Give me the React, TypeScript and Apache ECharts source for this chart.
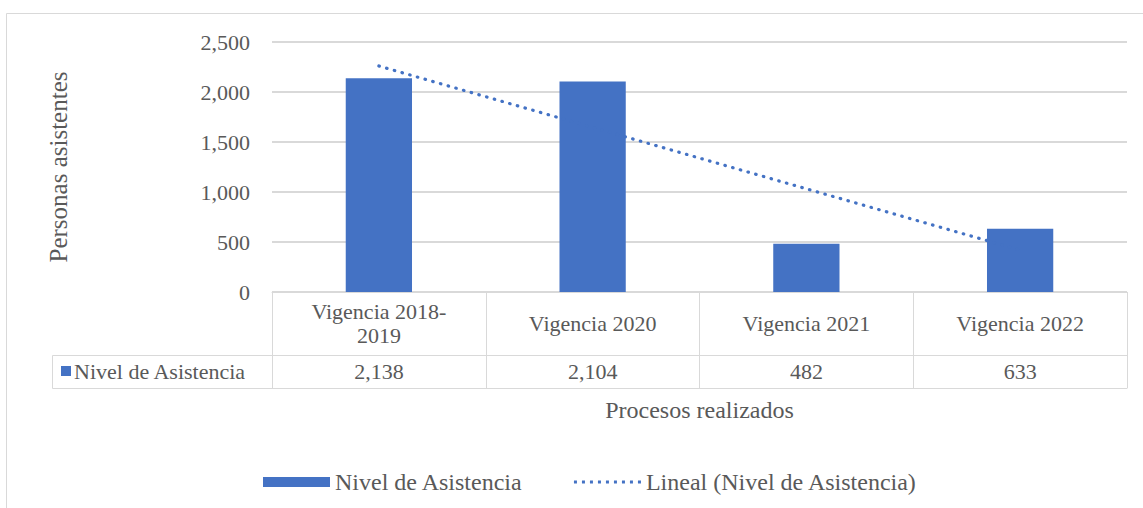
import React, { useEffect, useRef } from "react";
import * as echarts from "echarts";

const categories = ["Vigencia 2018-\n2019", "Vigencia 2020", "Vigencia 2021", "Vigencia 2022"];
const attendance = [2138, 2104, 482, 633];
const trendValues = [2260, 1646, 1032, 419];
const yTicks = { min: 0, max: 2500, interval: 500 };
const seriesName = "Nivel de Asistencia";
const trendName = "Lineal (Nivel de Asistencia)";

const BLUE = "#4472C4";
const GRID = "#d9d9d9";
const TEXT = "#595959";
const FONT = "Liberation Serif, Times New Roman, serif";
const FS = 22;

const fmt = (v: number) => v.toLocaleString("en-US");

const dotIcon =
  "path://" +
  Array.from({ length: 9 }, (_, i) => `M${i * 8},0h3v3h-3z`).join(" ");

export default function App() {
  const ref = useRef<HTMLDivElement>(null);
  useEffect(() => {
    if (!ref.current) return;
    const chart = echarts.init(ref.current, null, { renderer: "svg" });
    const textStyle = { fontFamily: FONT, fontSize: FS, color: TEXT };
    chart.setOption({
      animation: false,
      textStyle: { fontFamily: FONT },
      grid: { left: 272, right: 16, top: 42, bottom: 216, containLabel: false },
      legend: {
        left: 258,
        top: 465,
        itemGap: 51,
        itemHeight: 10,
        textStyle: { ...textStyle, fontSize: 24 },
        data: [
          { name: seriesName, icon: "rect", itemWidth: 67, itemHeight: 10 } as any,
          { name: trendName, icon: dotIcon, itemWidth: 67, itemHeight: 3 } as any,
        ],
        itemWidth: 67,
      },
      xAxis: [
        {
          type: "category",
          data: categories,
          position: "bottom",
          axisLine: { show: true, lineStyle: { color: GRID, width: 1 } },
          axisTick: { show: true, length: 96, lineStyle: { color: GRID } },
          axisLabel: { ...textStyle, margin: 31, verticalAlign: "middle", lineHeight: 24 },
          splitLine: { show: false },
        },
        {
          type: "category",
          data: categories,
          position: "bottom",
          offset: 63,
          axisLine: { show: true, lineStyle: { color: GRID, width: 1 } },
          axisTick: { show: false },
          axisLabel: {
            ...textStyle,
            margin: 16,
            verticalAlign: "middle",
            formatter: (_v: string, i: number) => fmt(attendance[i]),
          },
        },
        {
          type: "category",
          data: categories,
          position: "bottom",
          offset: 96,
          axisLine: { show: true, lineStyle: { color: GRID, width: 1 } },
          axisTick: { show: false },
          axisLabel: { show: false },
          name: "Procesos realizados",
          nameLocation: "middle",
          nameGap: 22,
          nameTextStyle: { ...textStyle, fontSize: 24, verticalAlign: "middle" },
        },
      ],
      yAxis: {
        type: "value",
        min: yTicks.min,
        max: yTicks.max,
        interval: yTicks.interval,
        axisLine: { show: false },
        axisTick: { show: false },
        splitLine: { lineStyle: { color: GRID, width: 2 } },
        axisLabel: { ...textStyle, margin: 22, formatter: (v: number) => fmt(v) },
        name: "Personas asistentes",
        nameLocation: "middle",
        nameGap: 214,
        nameRotate: 90,
        nameTextStyle: { ...textStyle, fontSize: 25, verticalAlign: "middle" },
      },
      series: [
        {
          name: seriesName,
          type: "bar",
          data: attendance,
          barWidth: "31%",
          itemStyle: { color: BLUE },
          xAxisIndex: 0,
        },
        {
          name: trendName,
          type: "line",
          data: trendValues,
          xAxisIndex: 0,
          symbol: "none",
          z: 5,
          lineStyle: { color: BLUE, width: 3.2, type: [0.5, 7.5], cap: "round" },
          itemStyle: { color: BLUE },
        },
      ],
      graphic: [
        {
          type: "rect",
          shape: { x: 6.5, y: 13.5, width: 1140, height: 500 },
          style: { fill: "none", stroke: GRID, lineWidth: 1 },
          silent: true,
          z: -1,
        },
        {
          type: "rect",
          shape: { x: 52.5, y: 355.5, width: 220, height: 33 },
          style: { fill: "none", stroke: GRID, lineWidth: 1 },
          silent: true,
        },
        {
          type: "rect",
          shape: { x: 61, y: 366, width: 10, height: 10 },
          style: { fill: BLUE },
          silent: true,
        },
        {
          type: "text",
          x: 74,
          y: 371,
          style: {
            text: seriesName,
            fill: TEXT,
            fontFamily: FONT,
            fontSize: FS,
            verticalAlign: "middle",
            align: "left",
          },
          silent: true,
        },
      ],
    });
    return () => chart.dispose();
  }, []);
  return (
    <div
      ref={ref}
      style={{ position: "fixed", left: 0, top: 0, width: 1143, height: 508, background: "#fff" }}
    />
  );
}
